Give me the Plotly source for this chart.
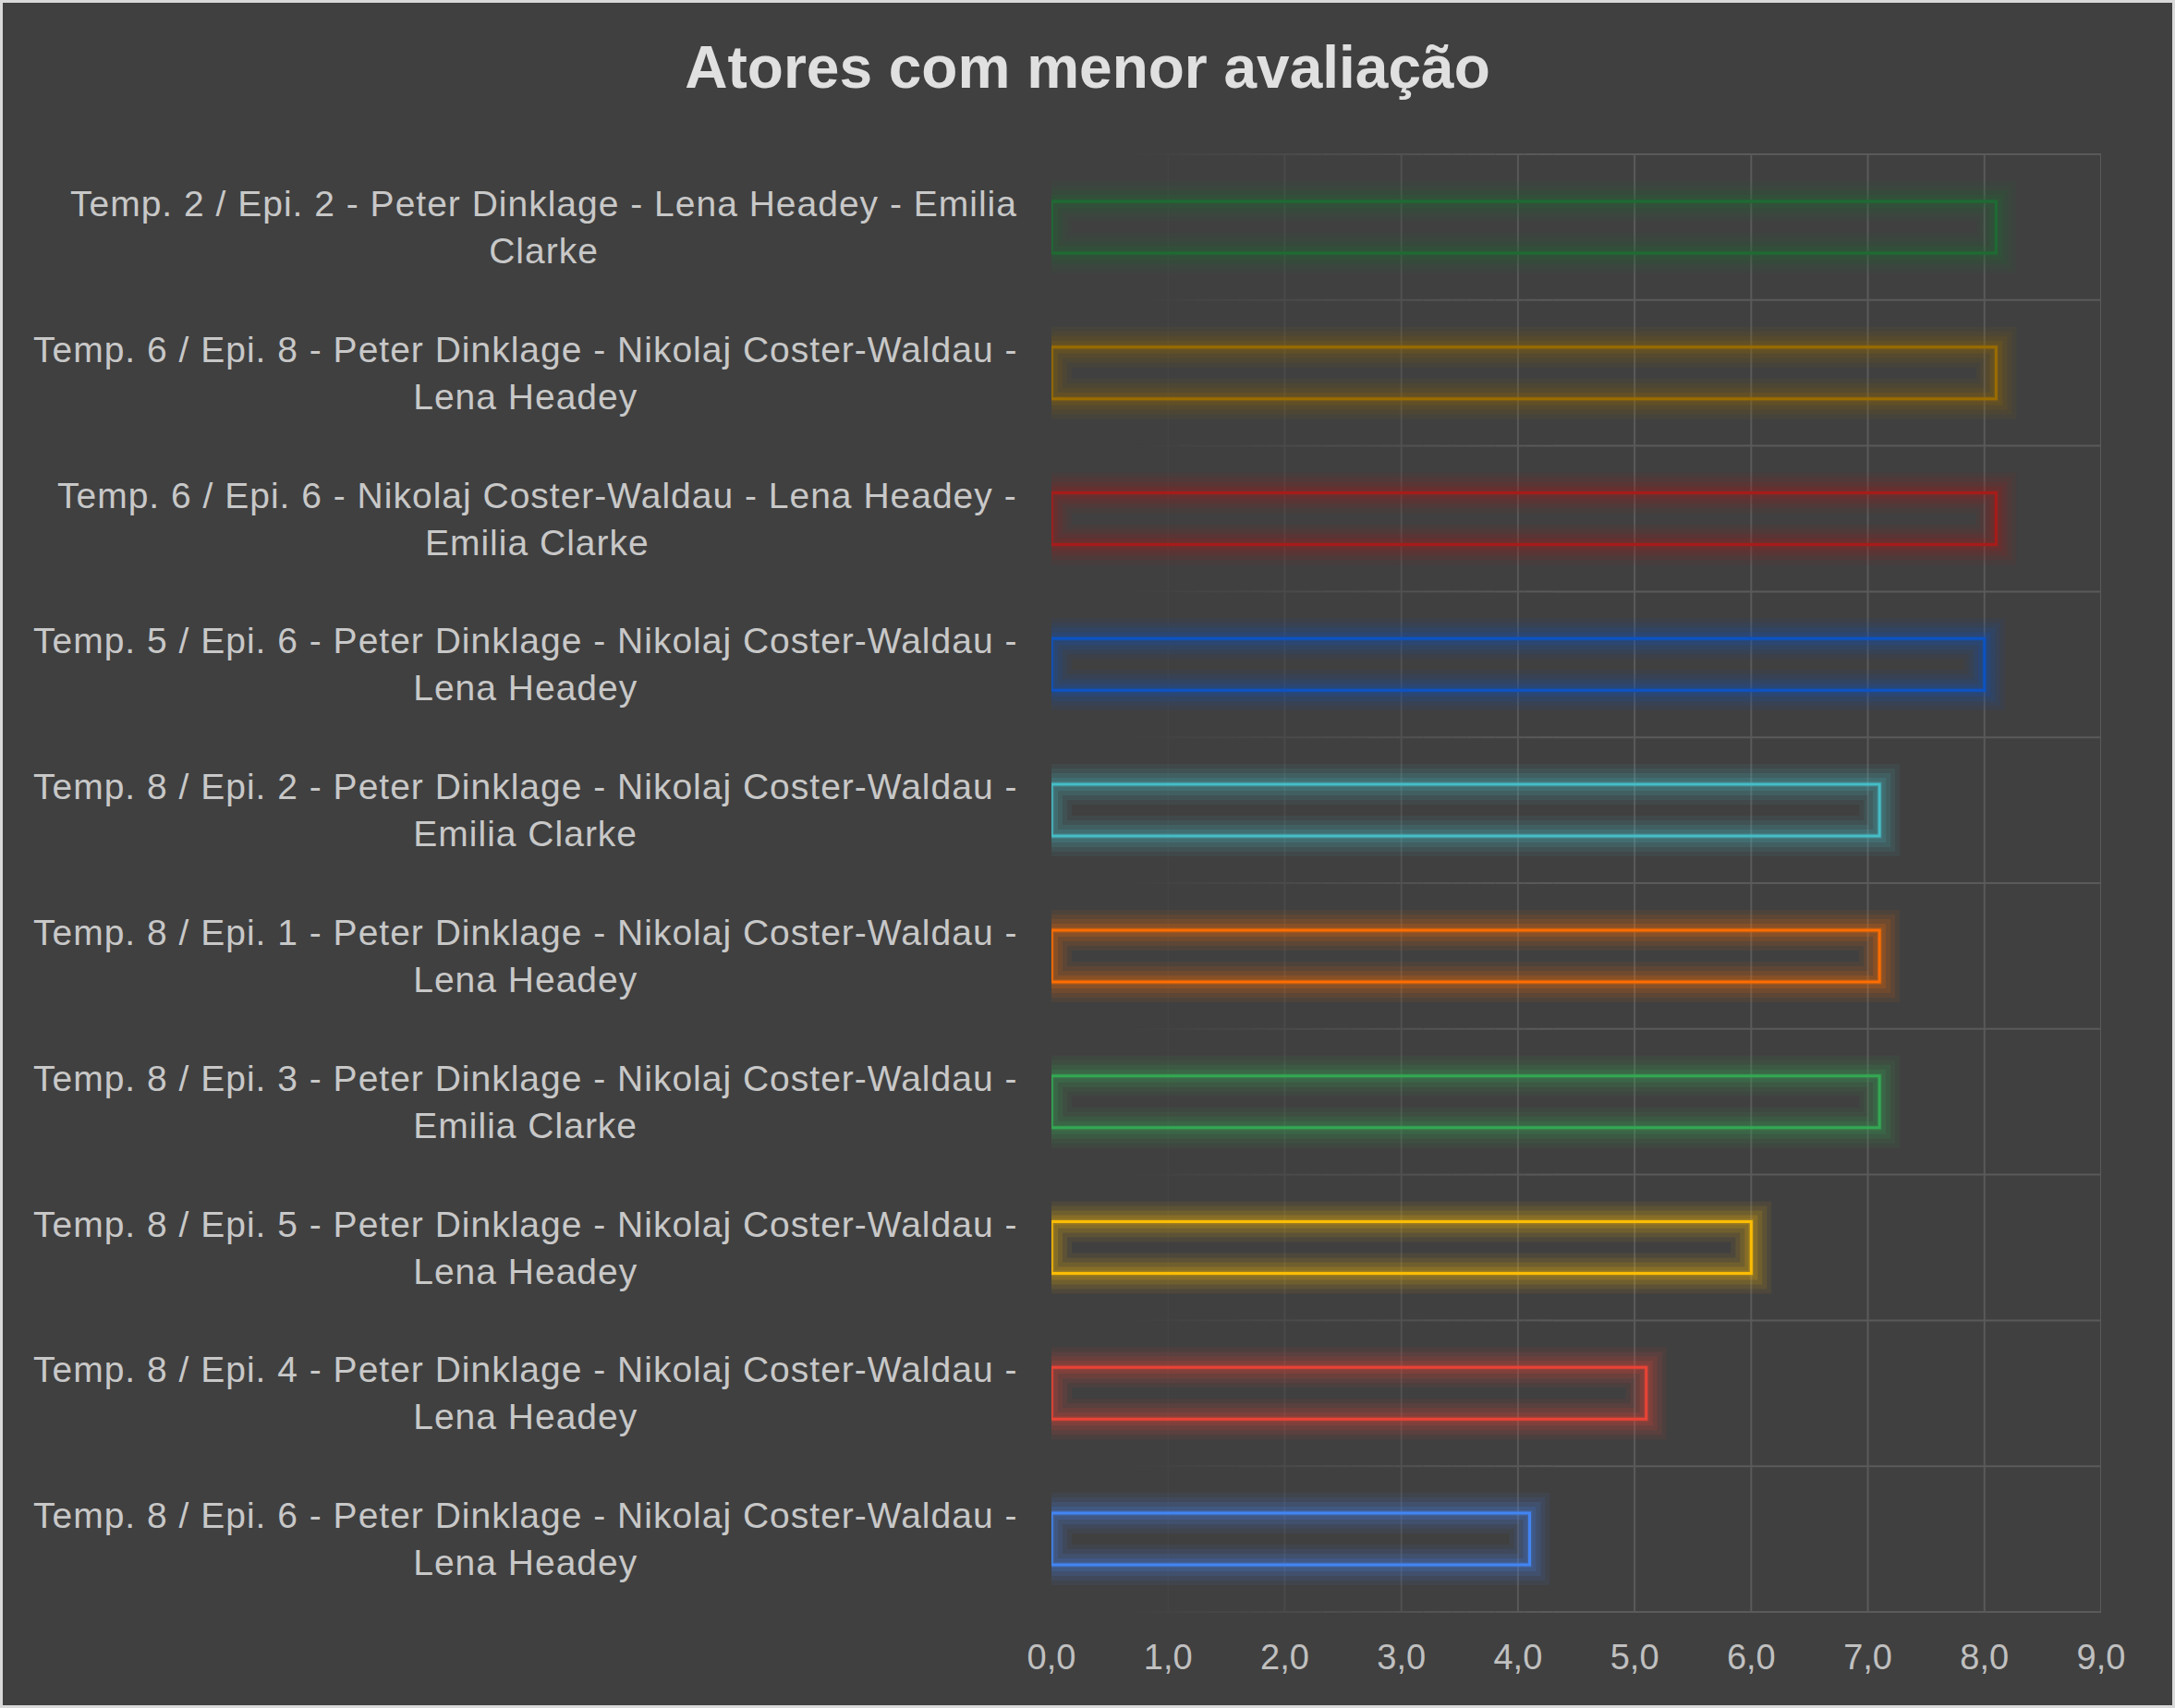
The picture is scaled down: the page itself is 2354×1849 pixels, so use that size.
import textwrap
import plotly.graph_objects as go

# ---- data (top to bottom as displayed) ----
labels = [
    "Temp. 2 / Epi. 2 - Peter Dinklage - Lena Headey - Emilia Clarke",
    "Temp. 6 / Epi. 8 - Peter Dinklage - Nikolaj Coster-Waldau - Lena Headey",
    "Temp. 6 / Epi. 6 - Nikolaj Coster-Waldau - Lena Headey - Emilia Clarke",
    "Temp. 5 / Epi. 6 - Peter Dinklage - Nikolaj Coster-Waldau - Lena Headey",
    "Temp. 8 / Epi. 2 - Peter Dinklage - Nikolaj Coster-Waldau - Emilia Clarke",
    "Temp. 8 / Epi. 1 - Peter Dinklage - Nikolaj Coster-Waldau - Lena Headey",
    "Temp. 8 / Epi. 3 - Peter Dinklage - Nikolaj Coster-Waldau - Emilia Clarke",
    "Temp. 8 / Epi. 5 - Peter Dinklage - Nikolaj Coster-Waldau - Lena Headey",
    "Temp. 8 / Epi. 4 - Peter Dinklage - Nikolaj Coster-Waldau - Lena Headey",
    "Temp. 8 / Epi. 6 - Peter Dinklage - Nikolaj Coster-Waldau - Lena Headey",
]
ratings = [8.1, 8.1, 8.1, 8.0, 7.1, 7.1, 7.1, 6.0, 5.1, 4.1]
bar_colors = ["#1e6b33", "#9a6c00", "#a61c1a", "#0c53c4",
              "#46bdc6", "#ff6d01", "#34a853", "#fbbc04", "#ea4335", "#4285f4"]
x_ticks = [0, 1, 2, 3, 4, 5, 6, 7, 8, 9]
title_text = "Atores com menor avaliação"

# ---- style ----
BG = (64, 64, 64)
GRID = (90, 90, 90)
FONT = "Liberation Sans, Arial, sans-serif"
W, H = 2354, 1849
ML, MR, MT, MB = 1138, 80, 166, 103
PW, PH = W - ML - MR, H - MT - MB
FADE0, FADE1 = 0.6, 4.3  # grid fades in from left over this x range


def hex2rgb(hexc):
    h = hexc.lstrip("#")
    return int(h[0:2], 16), int(h[2:4], 16), int(h[4:6], 16)


def rgba(hexc, a):
    r, g, b = hex2rgb(hexc)
    return f"rgba({r},{g},{b},{a:.4f})"


def grid_color(x):
    f = min(1.0, max(0.0, (x - FADE0) / (FADE1 - FADE0)))
    c = [round(BG[i] + (GRID[i] - BG[i]) * f) for i in range(3)]
    return f"rgb({c[0]},{c[1]},{c[2]})"


def wrap_label(s):
    lines = textwrap.wrap(s, width=59, break_on_hyphens=False)
    return "<br>".join(f"<span style='letter-spacing:1px'>{ln}</span>" for ln in lines)


wrapped = [wrap_label(s) for s in labels]

fig = go.Figure()

BAR_W = 0.355
# glow layers
for lw, a in [(44, 0.07), (34, 0.09), (24, 0.12), (14, 0.16), (6, 0.2)]:
    fig.add_trace(go.Bar(
        y=labels, x=ratings, orientation="h", width=BAR_W,
        marker=dict(color="rgba(0,0,0,0)",
                    line=dict(color=[rgba(c, a) for c in bar_colors], width=lw)),
        hoverinfo="skip", showlegend=False,
    ))
# main outline
fig.add_trace(go.Bar(
    y=labels, x=ratings, orientation="h", width=BAR_W,
    marker=dict(color="rgba(0,0,0,0)", line=dict(color=bar_colors, width=3)),
    showlegend=False,
))

# ---- grid drawn as shapes so it can fade in from the left ----
shapes = []
xmax = x_ticks[-1]
for xv in x_ticks[1:]:
    shapes.append(dict(type="line", xref="x", yref="paper", x0=xv, x1=xv, y0=0, y1=1,
                       layer="below", line=dict(color=grid_color(xv), width=2)))
seg_edges = [FADE0 + (FADE1 - FADE0) * k / 30 for k in range(31)] + [xmax]
for i in range(len(labels) + 1):
    yb = i - 0.5
    for x0, x1 in zip(seg_edges[:-1], seg_edges[1:]):
        shapes.append(dict(type="line", xref="x", yref="y", x0=x0, x1=x1, y0=yb, y1=yb,
                           layer="below", line=dict(color=grid_color((x0 + x1) / 2), width=2)))

annotations = []
for lab, txt in zip(labels, wrapped):
    annotations.append(dict(
        x=0, xref="paper", y=lab, yref="y", xanchor="right", yanchor="middle",
        xshift=-35, text=txt, align="center", showarrow=False,
        font=dict(family=FONT, size=39, color="#c8c8c8"),
    ))


def px_x(px):
    return (px - ML) / PW


def px_y(py):
    return (H - MB - py) / PH


shapes.append(dict(type="rect", xref="paper", yref="paper", layer="above",
                   x0=px_x(1.5), x1=px_x(W - 1.5), y0=px_y(H - 1.5), y1=px_y(1.5),
                   line=dict(color="#d9d9d9", width=3), fillcolor="rgba(0,0,0,0)"))

fig.update_layout(
    width=W, height=H,
    margin=dict(l=ML, r=MR, t=MT, b=MB, pad=0),
    paper_bgcolor="rgb(64,64,64)", plot_bgcolor="rgb(64,64,64)",
    barmode="overlay",
    separators=",.",
    title=dict(text=title_text, x=0.5, xanchor="center", y=1 - 73 / H, yanchor="middle",
               font=dict(family=FONT, size=64, color="#e0e0e0", weight="bold")),
    xaxis=dict(range=[0, 9], tickvals=x_ticks, tickformat=".1f",
               showgrid=False, showline=False, zeroline=False,
               ticks="", ticklabelstandoff=22,
               tickfont=dict(family=FONT, size=38, color="#c0c0c0")),
    yaxis=dict(type="category", categoryorder="array", categoryarray=labels,
               autorange="reversed", range=[len(labels) - 0.5, -0.5],
               showgrid=False, showticklabels=False, ticks="", zeroline=False, showline=False),
    annotations=annotations,
    shapes=shapes,
)

fig.write_html("out.html")
